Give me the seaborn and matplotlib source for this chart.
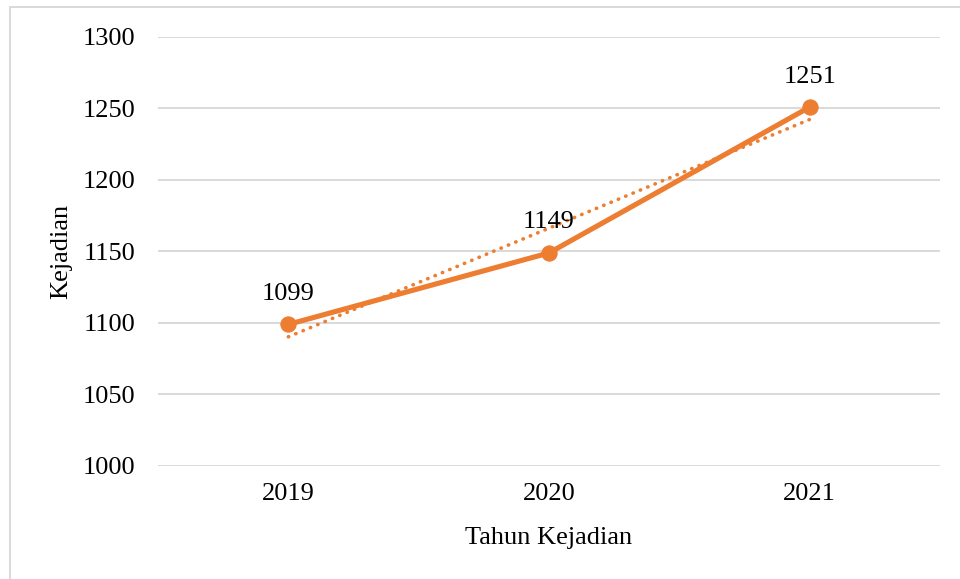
import numpy as np
import pandas as pd
import matplotlib
matplotlib.use("Agg")
import matplotlib.pyplot as plt
import seaborn as sns
from matplotlib.patches import Rectangle

# data
years = ["2019", "2020", "2021"]
kejadian = [1099, 1149, 1251]
y_ticks = [1000, 1050, 1100, 1150, 1200, 1250, 1300]

ORANGE = "#ED7D31"
GRID = "#D9D9D9"

sns.set_theme(style="white")
plt.rcParams["font.family"] = ["Liberation Serif", "DejaVu Serif"]

df = pd.DataFrame({"Tahun": years, "Kejadian": kejadian})
df["pos"] = np.arange(len(df))

fig = plt.figure(figsize=(9.6, 5.79), dpi=100)
ax = fig.add_axes([0.1646, 0.1952, 0.8146, 0.7409])

# gridlines
ax.set_axisbelow(True)
ax.yaxis.grid(True, color=GRID, linewidth=1.4)
ax.xaxis.grid(False)

# main series
sns.lineplot(data=df, x="pos", y="Kejadian", ax=ax, color=ORANGE,
             linewidth=3.7, marker="o", markersize=11,
             markeredgecolor=ORANGE, zorder=3)

# linear trendline (Excel style, x = 1..n)
xs = np.arange(1, len(df) + 1)
coef = np.polyfit(xs, df["Kejadian"], 1)
trend = np.polyval(coef, xs)
ax.plot(df["pos"], trend, color=ORANGE, linewidth=2.6,
        linestyle=(0, (0.1, 2.1)), dash_capstyle="round", zorder=2)

# data labels
for x, v in zip(df["pos"], df["Kejadian"]):
    ax.annotate(f"{v}", (x, v), xytext=(0, 22), textcoords="offset points",
                ha="center", va="center", fontsize=19, color="black")

ax.set_xlim(-0.5, len(df) - 0.5)
ax.set_ylim(1000, 1300)
ax.set_yticks(y_ticks)
ax.set_xticks(df["pos"])
ax.set_xticklabels(years)
ax.tick_params(axis="both", length=0, labelsize=19, colors="black")
ax.tick_params(axis="y", pad=16)
ax.tick_params(axis="x", pad=12)

for s in ax.spines.values():
    s.set_visible(False)

ax.set_xlabel("Tahun Kejadian", fontsize=19, color="black", labelpad=16)
ax.set_ylabel("Kejadian", fontsize=19, color="black", labelpad=8)

# chart-area border (Excel)
fig.patches.append(Rectangle((10 / 960, -0.2), 1.2, 0.988 + 0.2,
                             transform=fig.transFigure, fill=False,
                             edgecolor=GRID, linewidth=1.4))

fig.savefig("out.png", dpi=100)
